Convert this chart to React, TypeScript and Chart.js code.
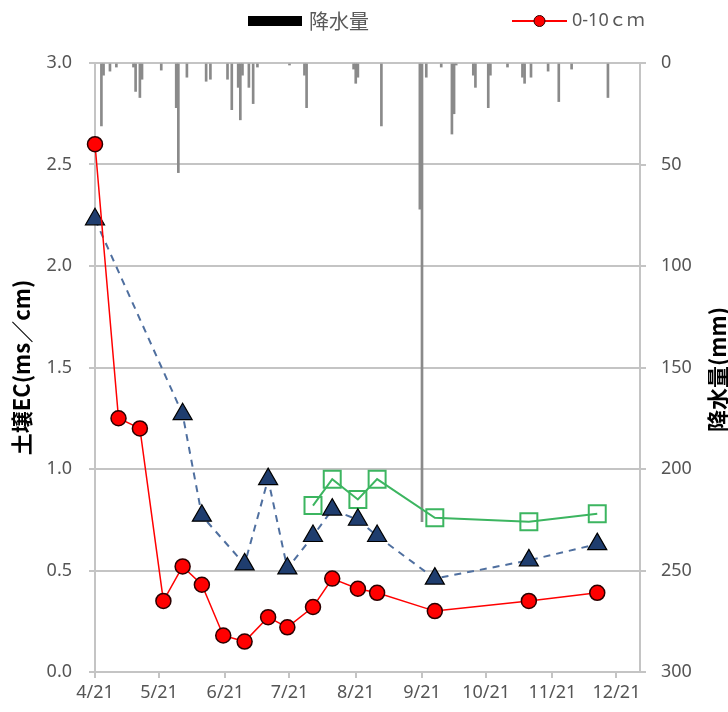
import React, { useEffect, useRef } from 'react';
import { Chart, registerables } from 'chart.js';

Chart.register(...registerables);

// ---- data ----
const startDate = '4/21';
const tickDates = ['4/21', '5/21', '6/21', '7/21', '8/21', '9/21', '10/21', '11/21', '12/21'];
const axisEndDate = '1/1';

// 0-10 cm (red circles)
const redDates = ['4/21', '5/2', '5/12', '5/23', '6/1', '6/10', '6/20', '6/30', '7/11', '7/20', '8/1', '8/10', '8/22', '8/31', '9/27', '11/10', '12/12'];
const redEC = [2.6, 1.25, 1.2, 0.35, 0.52, 0.43, 0.18, 0.15, 0.27, 0.22, 0.32, 0.46, 0.41, 0.39, 0.3, 0.35, 0.39];

// second layer (blue triangles, dashed)
const blueDates = ['4/21', '6/1', '6/10', '6/30', '7/11', '7/20', '8/1', '8/10', '8/22', '8/31', '9/27', '11/10', '12/12'];
const blueEC = [2.23, 1.27, 0.77, 0.53, 0.95, 0.51, 0.67, 0.8, 0.75, 0.67, 0.46, 0.55, 0.63];

// third layer (green squares)
const greenDates = ['8/1', '8/10', '8/22', '8/31', '9/27', '11/10', '12/12'];
const greenEC = [0.82, 0.95, 0.85, 0.95, 0.76, 0.74, 0.78];

// daily precipitation (mm)
const rainDates = ['4/24', '4/25', '4/28', '5/1', '5/9', '5/10', '5/12', '5/13', '5/22', '5/29', '5/30', '6/3', '6/12', '6/14', '6/22', '6/24', '6/27', '6/28', '6/29', '7/2', '7/4', '7/6', '7/21', '7/28', '7/29', '8/20', '8/21', '8/22', '9/2', '9/20', '9/21', '9/23', '9/30', '10/5', '10/6', '10/7', '10/15', '10/16', '10/22', '10/23', '10/31', '11/7', '11/8', '11/11', '11/19', '11/24', '11/30', '12/17'];
const rainMm = [31, 6, 4, 2, 2, 14, 17, 8, 3.5, 22, 54, 7, 9, 8, 8, 23, 12, 28, 6, 12, 20, 2, 1, 6, 22, 3, 10, 7, 31, 72, 226, 7, 2, 35, 25, 1, 6, 12, 22, 6, 2, 7, 10, 7, 4, 19, 3, 17];

const legendRain = '降水量';
const legendRed = '0-10ｃｍ';
const leftTitle = '土壌EC(ms／cm)';
const rightTitle = '降水量(mm)';

// ---- helpers ----
function dayOf(md: string): number {
  const [m, d] = md.split('/').map(Number);
  const [sm, sd] = startDate.split('/').map(Number);
  const year = m < sm ? 2001 : 2000;
  return Math.round((Date.UTC(year, m - 1, d) - Date.UTC(2000, sm - 1, sd)) / 86400000);
}
const toPoints = (dates: string[], vals: number[]) => dates.map((d, i) => ({ x: dayOf(d), y: vals[i] }));
const tickDays = tickDates.map(dayOf);
const tickLabelByDay: Record<number, string> = {};
tickDates.forEach((t) => (tickLabelByDay[dayOf(t)] = t));

const TICK_FONT = { family: "'Noto Sans', 'Noto Sans CJK JP', sans-serif", size: 18 };
const TICK_COLOR = '#555555';
const GRID = '#c4c4c4';

const overlay = {
  id: 'overlay',
  afterDraw(chart: any) {
    const ctx = chart.ctx as CanvasRenderingContext2D;
    const area = chart.chartArea;
    ctx.save();
    // legend
    ctx.fillStyle = '#000';
    ctx.fillRect(248, 16, 54, 10);
    ctx.font = "20px 'Noto Sans CJK JP', sans-serif";
    ctx.fillStyle = '#595959';
    ctx.textBaseline = 'middle';
    ctx.textAlign = 'left';
    ctx.fillText(legendRain, 309, 21);
    ctx.strokeStyle = '#ff0000';
    ctx.lineWidth = 2;
    ctx.beginPath();
    ctx.moveTo(512, 21);
    ctx.lineTo(567, 21);
    ctx.stroke();
    ctx.beginPath();
    ctx.arc(539.5, 21, 5.5, 0, Math.PI * 2);
    ctx.fillStyle = '#ff0000';
    ctx.fill();
    ctx.lineWidth = 1;
    ctx.strokeStyle = '#300000';
    ctx.stroke();
    ctx.fillStyle = '#595959';
    ctx.font = "18px 'Noto Sans', 'Noto Sans CJK JP', sans-serif";
    ctx.fillText(legendRed, 572, 21);

    // axis titles
    ctx.fillStyle = '#000';
    ctx.font = "bold 22px 'Noto Sans CJK JP', sans-serif";
    ctx.textAlign = 'center';
    const cy = (area.top + area.bottom) / 2;
    ctx.save();
    ctx.translate(22, cy);
    ctx.rotate(-Math.PI / 2);
    ctx.fillText(leftTitle, 0, 0);
    ctx.restore();
    ctx.save();
    ctx.translate(718, cy + 2);
    ctx.rotate(-Math.PI / 2);
    ctx.fillText(rightTitle, 0, 0);
    ctx.restore();
    ctx.restore();
  },
};

export default function App() {
  const ref = useRef<HTMLCanvasElement>(null);
  useEffect(() => {
    if (!ref.current) return;
    const chart = new Chart(ref.current, {
      type: 'line',
      data: {
        datasets: [
          {
            type: 'line',
            label: '0-10cm',
            data: toPoints(redDates, redEC),
            xAxisID: 'x',
            yAxisID: 'y',
            borderColor: '#ff0000',
            borderWidth: 1.5,
            pointStyle: 'circle',
            pointRadius: 7.5,
            pointBackgroundColor: '#ff0000',
            pointBorderColor: '#2a0000',
            pointBorderWidth: 1.5,
            tension: 0,
            clip: false,
            order: 1,
          },
          {
            type: 'line',
            label: 'layer2',
            data: toPoints(blueDates, blueEC),
            xAxisID: 'x',
            yAxisID: 'y',
            borderColor: '#4f6f9f',
            borderWidth: 2,
            borderDash: [7, 6],
            pointStyle: 'triangle',
            pointRadius: 11,
            pointBackgroundColor: '#1f3d6e',
            pointBorderColor: '#000000',
            pointBorderWidth: 1.2,
            tension: 0,
            clip: false,
            order: 2,
          },
          {
            type: 'line',
            label: 'layer3',
            data: toPoints(greenDates, greenEC),
            xAxisID: 'x',
            yAxisID: 'y',
            borderColor: '#3cb560',
            borderWidth: 2,
            pointStyle: 'rect',
            pointRadius: 12,
            pointBackgroundColor: 'rgba(255,255,255,0)',
            pointBorderColor: '#3cb560',
            pointBorderWidth: 2,
            tension: 0,
            clip: false,
            order: 3,
          },
          {
            type: 'bar',
            label: legendRain,
            data: toPoints(rainDates, rainMm) as any,
            xAxisID: 'x',
            yAxisID: 'yR',
            backgroundColor: '#8a8a8a',
            barThickness: 2,
            order: 4,
          } as any,
        ],
      },
      options: {
        animation: false,
        responsive: false,
        maintainAspectRatio: false,
        devicePixelRatio: 1,
        layout: { padding: { top: 63, left: 0, right: 0, bottom: 0 } },
        plugins: { legend: { display: false }, tooltip: { enabled: false } },
        scales: {
          x: {
            type: 'linear',
            position: 'bottom',
            min: 0,
            max: dayOf(axisEndDate),
            offset: false,
            afterBuildTicks: (scale: any) => {
              scale.ticks = tickDays.map((v) => ({ value: v }));
            },
            afterFit: (scale: any) => {
              scale.height = 40;
            },
            ticks: {
              autoSkip: false,
              maxRotation: 0,
              padding: 4,
              color: TICK_COLOR,
              font: TICK_FONT,
              callback: (v: any) => tickLabelByDay[v as number] ?? '',
            },
            grid: { drawOnChartArea: false, drawTicks: true, tickLength: 6, color: GRID, lineWidth: 2, offset: false },
            border: { color: GRID, width: 2 },
          },
          y: {
            type: 'linear',
            position: 'left',
            min: 0,
            max: 3,
            afterFit: (scale: any) => {
              scale.width = 95;
            },
            ticks: {
              stepSize: 0.5,
              padding: 17,
              color: TICK_COLOR,
              font: TICK_FONT,
              callback: (v: any) => Number(v).toFixed(1),
            },
            grid: { color: GRID, lineWidth: 2, tickLength: 6 },
            border: { color: GRID, width: 2 },
          },
          yR: {
            type: 'linear',
            position: 'right',
            min: 0,
            max: 300,
            reverse: true,
            afterFit: (scale: any) => {
              scale.width = 88;
            },
            ticks: {
              stepSize: 50,
              padding: 15,
              color: TICK_COLOR,
              font: TICK_FONT,
            },
            grid: { drawOnChartArea: false, color: GRID, lineWidth: 2, tickLength: 6 },
            border: { color: GRID, width: 2 },
          },
        },
      } as any,
      plugins: [overlay],
    });
    return () => chart.destroy();
  }, []);
  return (
    <div style={{ position: 'absolute', left: 0, top: 0, width: 728, height: 712, background: '#fff' }}>
      <canvas ref={ref} width={728} height={712} style={{ display: 'block', width: 728, height: 712 }} />
    </div>
  );
}
